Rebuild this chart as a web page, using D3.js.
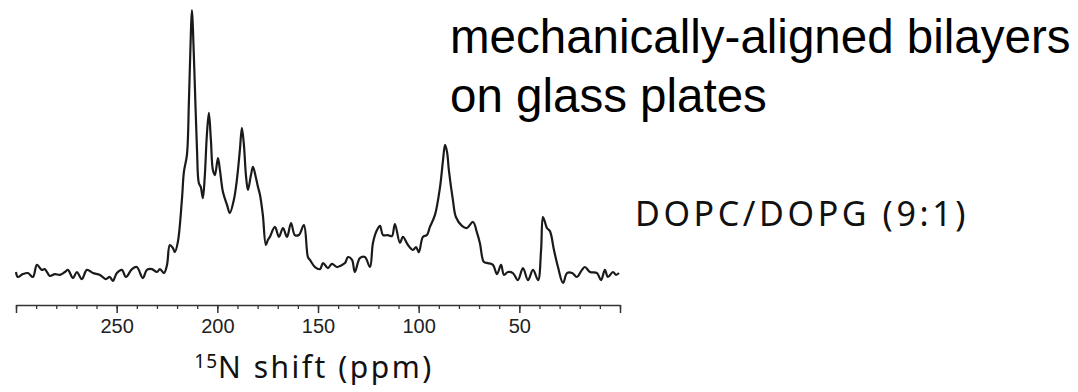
<!DOCTYPE html>
<html>
<head>
<meta charset="utf-8">
<script src="https://cdn.jsdelivr.net/npm/d3@7"></script>
<style>
  html, body { margin: 0; padding: 0; background: #fff; }
  svg { display: block; }
</style>
</head>
<body>
<svg id="chart" width="1078" height="392"></svg>
<script>
// 15N chemical shift (ppm) of each sampled point, high to low
const shiftPpm = [
  300.0, 299.1, 296.6, 294.1, 291.6, 289.6, 287.2, 285.7, 283.2, 280.7,
  278.2, 275.7, 274.2, 271.7, 269.8, 267.3, 264.8, 261.8, 258.3, 255.4,
  253.4, 251.9, 249.9, 247.4, 245.4, 242.4, 240.0, 237.0, 235.0, 232.5,
  230.0, 228.5, 226.5, 225.0, 223.6, 222.1, 221.1, 219.6, 217.6, 216.6,
  215.1, 214.1, 213.1, 212.6, 212.1, 211.1, 210.1, 209.2, 208.2, 207.2,
  206.2, 205.2, 204.2, 203.2, 202.2, 201.2, 199.7, 198.7, 197.2, 195.2,
  193.8, 191.8, 190.3, 188.8, 187.8, 186.8, 185.8, 184.8, 183.3, 182.3,
  180.8, 179.8, 178.8, 177.4, 175.9, 174.9, 173.9, 171.4, 169.4, 167.4,
  165.4, 163.4, 161.5, 159.5, 157.0, 155.0, 154.0, 151.5, 149.0, 147.5,
  145.1, 143.1, 140.6, 139.1, 136.6, 135.1, 133.1, 131.7, 129.2, 126.7,
  124.2, 122.7, 120.7, 119.2, 117.7, 115.3, 113.3, 111.8, 109.3, 107.8,
  105.3, 102.8, 101.3, 99.9, 97.9, 95.9, 94.4, 91.9, 89.4, 87.9,
  86.9, 85.9, 85.0, 83.0, 81.5, 78.5, 76.0, 73.0, 71.0, 69.6,
  67.6, 65.6, 63.1, 61.1, 59.1, 57.6, 55.6, 53.2, 50.7, 48.2,
  45.7, 43.2, 40.7, 39.2, 38.3, 37.3, 36.3, 34.8, 32.8, 30.8,
  28.3, 26.3, 23.8, 21.4, 18.9, 17.4, 14.9, 11.4, 9.4, 7.5,
  6.0, 3.5, 2.0, 0.5
];

// Signal intensity (relative, tallest peak = 100)
const intensity = [
  0.0, -1.9, -0.8, -0.4, -1.9, 2.7, 0.8, 1.1, -1.5, -0.8,
  -1.1, 0.0, 0.8, -2.3, 0.0, -2.7, 0.8, -0.4, -1.1, -2.7,
  -1.9, -3.4, -0.4, 0.8, -1.9, 1.1, 1.9, -2.3, 0.8, 1.1,
  0.0, 1.1, -0.4, 2.7, 10.3, 9.2, 7.6, 11.5, 27.5, 38.2,
  44.7, 65.6, 92.4, 100.0, 92.4, 69.5, 46.6, 34.0, 32.4, 28.2,
  37.0, 52.3, 60.7, 50.4, 38.9, 37.0, 43.5, 38.9, 30.5, 25.6,
  22.5, 27.5, 35.1, 46.6, 55.0, 48.5, 37.0, 31.3, 37.0, 40.1,
  35.9, 32.4, 29.4, 21.8, 10.3, 12.2, 13.4, 17.2, 13.4, 16.8,
  13.4, 18.7, 14.1, 14.1, 17.9, 5.7, 4.6, 1.9, 1.1, 3.4,
  1.5, 3.1, 1.9, 2.3, 3.4, 5.7, 4.6, 0.0, 5.3, 5.7,
  1.9, 11.1, 16.0, 17.6, 14.1, 14.1, 13.7, 18.3, 11.1, 13.4,
  10.3, 8.4, 9.5, 7.6, 13.4, 14.1, 17.2, 21.8, 32.4, 42.7,
  48.5, 45.8, 38.9, 27.5, 21.0, 17.6, 16.8, 19.1, 14.9, 11.1,
  3.8, 3.4, 2.7, -0.8, 2.7, -1.1, 0.0, -0.4, -3.1, 1.5,
  -3.1, 0.8, -3.1, 8.4, 21.0, 19.1, 16.8, 15.6, 8.4, 1.9,
  -4.2, -0.4, -0.4, -1.9, 0.8, 1.9, 0.0, -0.4, -3.1, 0.8,
  -1.9, 0.0, -1.1, -0.4
];

// Axis ticks
const majorTicks = [300, 250, 200, 150, 100, 50, 0];
const labelledTicks = [250, 200, 150, 100, 50];
const minorTicks = d3.range(0, 301, 10);

// Annotation text
const titleLines = ["mechanically-aligned bilayers", "on glass plates"];
const sampleLabel = "DOPC/DOPG (9:1)";
const axisNucleus = "15";
const axisTitle = "N shift (ppm)";

const svg = d3.select("#chart");

const x = d3.scaleLinear().domain([300, 0]).range([16, 620]);
const y = d3.scaleLinear().domain([0, 100]).range([272, 10]);

const axisY = 305;

// minor ticks
svg.append("g")
  .attr("transform", `translate(0,${axisY})`)
  .call(d3.axisBottom(x).tickValues(minorTicks).tickSize(4).tickSizeOuter(0).tickFormat(""))
  .call(g => g.select(".domain").remove())
  .call(g => g.selectAll(".tick line").attr("stroke", "#333").attr("stroke-width", 1.3));

// major ticks, labels and baseline
svg.append("g")
  .attr("transform", `translate(0,${axisY})`)
  .call(d3.axisBottom(x).tickValues(majorTicks).tickSize(8).tickSizeOuter(0)
    .tickFormat(d => labelledTicks.includes(d) ? d : ""))
  .call(g => g.select(".domain").attr("stroke", "#333").attr("stroke-width", 1.5))
  .call(g => g.selectAll(".tick line").attr("stroke", "#333").attr("stroke-width", 1.5))
  .call(g => g.selectAll(".tick text")
    .attr("y", 14)
    .attr("fill", "#222")
    .style("font-family", "'Liberation Sans', Arial, sans-serif")
    .style("font-size", "20px"));

// axis title with superscript mass number
const at = svg.append("text")
  .attr("x", 314)
  .attr("y", 378)
  .attr("text-anchor", "middle")
  .attr("fill", "#111")
  .style("font-family", "'Noto Sans', sans-serif")
  .style("font-size", "30px")
  .style("letter-spacing", "2.5px");
at.append("tspan").attr("dy", -10).style("font-size", "19px").style("letter-spacing", "1px").text(axisNucleus);
at.append("tspan").attr("dy", 10).text(axisTitle);

// spectrum trace
const points = shiftPpm.map((p, i) => [p, intensity[i]]);
const line = d3.line()
  .x(d => x(d[0]))
  .y(d => y(d[1]))
  .curve(d3.curveCatmullRom.alpha(0.5));

svg.append("path")
  .datum(points)
  .attr("d", line)
  .attr("fill", "none")
  .attr("stroke", "#1a1a1a")
  .attr("stroke-width", 2.2)
  .attr("stroke-linejoin", "round");

// title block
const title = svg.append("text")
  .attr("x", 450)
  .attr("fill", "#000")
  .style("font-family", "'Liberation Sans', Arial, sans-serif")
  .style("font-size", "47.5px");
titleLines.forEach((t, i) => {
  title.append("tspan").attr("x", 450).attr("y", 53 + i * 59).text(t);
});

// sample composition label
svg.append("text")
  .attr("x", 635)
  .attr("y", 226)
  .attr("fill", "#111")
  .style("font-family", "'Noto Sans', sans-serif")
  .style("font-size", "34px")
  .style("letter-spacing", "3.6px")
  .text(sampleLabel);
</script>
</body>
</html>
